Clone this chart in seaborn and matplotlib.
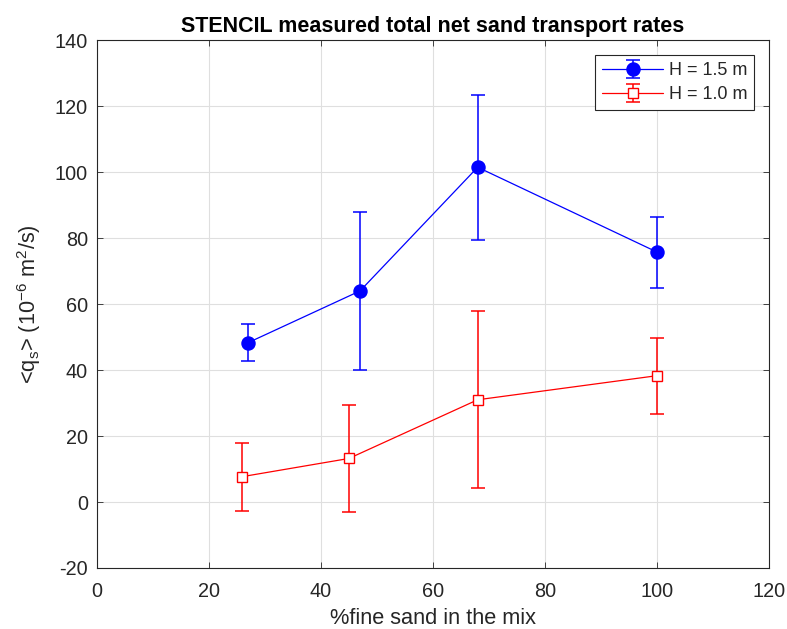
import numpy as np
import matplotlib
matplotlib.use("Agg")
import matplotlib.pyplot as plt
import seaborn as sns

# values
x_15 = [27, 47, 68, 100]
q_15 = [48.3, 64.0, 101.5, 75.8]
hi_15 = [54.0, 88.0, 123.5, 86.5]
lo_15 = [42.8, 40.0, 79.4, 65.0]

x_10 = [26, 45, 68, 100]
q_10 = [7.7, 13.2, 31.0, 38.3]
hi_10 = [18.0, 29.3, 57.8, 49.8]
lo_10 = [-2.8, -3.0, 4.3, 26.6]

labels = ["H = 1.5 m", "H = 1.0 m"]

sns.set_theme(style="whitegrid")
plt.rcParams['font.family'] = ['Liberation Sans', 'DejaVu Sans']
plt.rcParams['mathtext.default'] = 'regular'
plt.rcParams['axes.unicode_minus'] = False
plt.rcParams['xtick.direction'] = 'in'
plt.rcParams['ytick.direction'] = 'in'

fig = plt.figure(figsize=(7.87, 6.29), dpi=100)
ax = fig.add_axes([0.123, 0.097, 0.854, 0.839])

def err(q, lo, hi):
    q = np.array(q)
    return [q - np.array(lo), np.array(hi) - q]

ax.errorbar(x_15, q_15, yerr=err(q_15, lo_15, hi_15), color='blue', lw=0.9,
            marker='o', ms=9.4, mfc='blue', mec='blue', capsize=4.7, elinewidth=1.1,
            capthick=1.1, label=labels[0], zorder=3)
ax.errorbar(x_10, q_10, yerr=err(q_10, lo_10, hi_10), color='red', lw=0.9,
            marker='s', ms=7.2, mfc='white', mec='red', capsize=5, elinewidth=1.1,
            capthick=1.1, label=labels[1], zorder=3)

ax.set_xlim(0, 120)
ax.set_ylim(-20, 140)
ax.set_xticks(np.arange(0, 121, 20))
ax.set_yticks(np.arange(-20, 141, 20))
ax.tick_params(labelsize=14.3, colors='#262626', length=4, width=0.6,
               left=True, bottom=True, top=True, right=True,
               labeltop=False, labelright=False)
ax.tick_params(axis='x', pad=10)
ax.tick_params(axis='y', pad=6.5)
ax.grid(True, color='#dfdfdf', lw=0.8)
for s in ax.spines.values():
    s.set_color('#262626')
    s.set_linewidth(0.8)

ax.set_xlabel('%fine sand in the mix', fontsize=15.7, color='#262626', labelpad=5)
ax.set_ylabel('<q$_{s}$> (10$^{-6}$ m$^{2}$/s)', fontsize=15.7, color='#262626', labelpad=8)
ax.set_title('STENCIL measured total net sand transport rates', fontsize=15.5,
             fontweight='bold', color='black', pad=6)

leg = ax.legend(loc='upper right', fontsize=13, frameon=True, fancybox=False,
                edgecolor='#262626', framealpha=1, handlelength=3.4,
                handletextpad=0.3, labelspacing=0.4, borderaxespad=0.8)
leg.get_frame().set_linewidth(0.8)

fig.savefig('out.png', dpi=100)
